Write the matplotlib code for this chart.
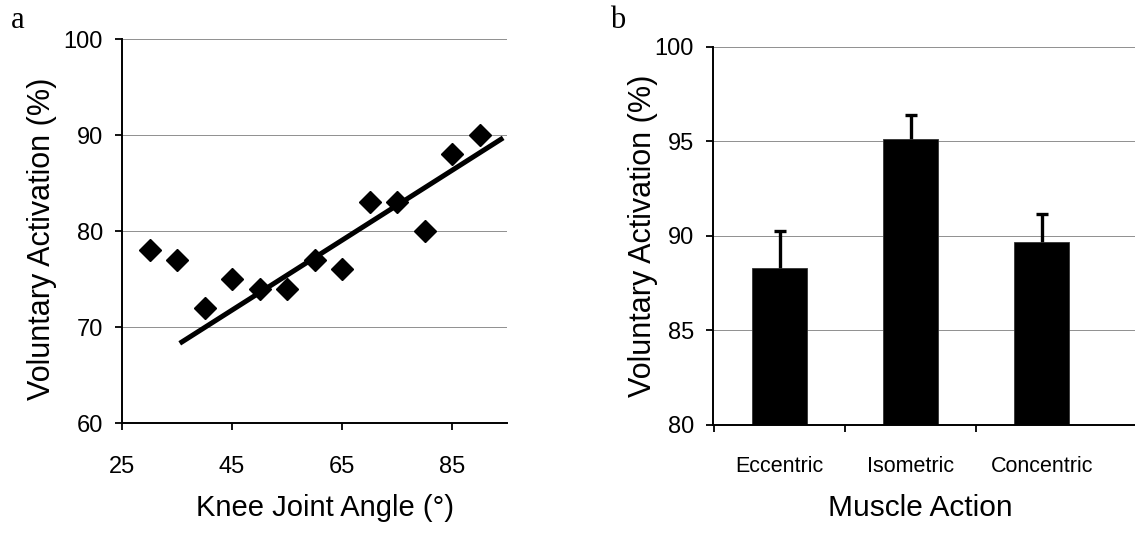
import matplotlib
matplotlib.use("Agg")
import matplotlib.pyplot as plt
import numpy as np

# ---- Data ----
knee_angle = [30, 35, 40, 45, 50, 55, 60, 65, 70, 75, 80, 85, 90]
activation = [78, 77, 72, 75, 74, 74, 77, 76, 83, 83, 80, 88, 90]
trend_x = [35.5, 94.3]
trend_y = [68.3, 89.7]
a_xticks = [25, 45, 65, 85]
a_yticks = [60, 70, 80, 90, 100]

actions = ["Eccentric", "Isometric", "Concentric"]
action_means = [88.3, 95.15, 89.7]
action_err = [1.95, 1.25, 1.45]
b_yticks = [80, 85, 90, 95, 100]

plt.rcParams['font.family'] = ['Liberation Sans', 'DejaVu Sans']

W, H = 1135, 548
fig = plt.figure(figsize=(W / 100, H / 100), dpi=100)

def px_axes(l, r, t, b):
    return fig.add_axes([l / W, 1 - b / H, (r - l) / W, (b - t) / H])

grid_col = '#8f8f8f'

# ---- Panel a ----
ax = px_axes(122, 507, 39, 423)
ax.set_xlim(25, 95)
ax.set_ylim(60, 100)
for yv in a_yticks[1:]:
    ax.axhline(yv, color=grid_col, lw=0.7, zorder=0)
ax.plot(knee_angle, activation, linestyle='none', marker='D', color='black',
        markersize=11.5, zorder=3)
ax.plot(trend_x, trend_y, color='black', lw=3.6, solid_capstyle='butt', zorder=2)
ax.set_xticks(a_xticks)
ax.set_yticks(a_yticks)
ax.tick_params(axis='both', direction='out', length=4.8, width=1.3, labelsize=17)
ax.tick_params(axis='x', pad=19)
ax.tick_params(axis='y', pad=9)
for s in ['top', 'right']:
    ax.spines[s].set_visible(False)
for s in ['left', 'bottom']:
    ax.spines[s].set_linewidth(1.4)
ax.set_ylabel('Voluntary Activation (%)', fontsize=22)
ax.yaxis.set_label_coords((42 - 122) / 385, 0.48)
ax.yaxis.label.set_va('center')
ax.set_xlabel('Knee Joint Angle (°)', fontsize=21)
ax.xaxis.set_label_coords((325 - 122) / 385, (423 - 508) / 384)
ax.xaxis.label.set_va('center')
fig.text(11 / W, 1 - 21 / H, 'a', fontsize=22, family='Liberation Serif',
         va='center', ha='left')

# ---- Panel b ----
bx = px_axes(713, 1140, 47, 425)
bx.set_xlim(-0.51, 2.75)
bx.set_ylim(80, 100)
for yv in b_yticks[1:]:
    bx.axhline(yv, color=grid_col, lw=0.7, zorder=0)
pos = np.arange(len(actions))
bx.errorbar(pos, action_means, yerr=action_err,
            fmt='none', ecolor='black', elinewidth=2.4, capsize=4.6,
            capthick=2.4, zorder=1)
bx.bar(pos, action_means, width=0.42, color='black', edgecolor='#333333',
       lw=0.6, zorder=2)
bx.set_yticks(b_yticks)
bx.set_xticks(pos)
bx.set_xticklabels(actions)
bx.set_xticks([-0.5, 0.5, 1.5], minor=True)
bx.tick_params(axis='x', which='major', length=0, labelsize=15.5, pad=22)
bx.tick_params(axis='x', which='minor', direction='out', length=5.2, width=1.3)
bx.tick_params(axis='y', direction='out', length=4.8, width=1.3, labelsize=17, pad=9)
for s in ['top', 'right']:
    bx.spines[s].set_visible(False)
for s in ['left', 'bottom']:
    bx.spines[s].set_linewidth(1.4)
bx.set_ylabel('Voluntary Activation (%)', fontsize=22)
bx.yaxis.set_label_coords((643 - 713) / 427, 0.5)
bx.yaxis.label.set_va('center')
fig.text(920 / W, 1 - 508 / H, 'Muscle Action', fontsize=21.5, ha='center', va='center')
fig.text(610 / W, 1 - 21 / H, 'b', fontsize=22, family='Liberation Serif',
         va='center', ha='left')

fig.savefig('out.png', dpi=100)
